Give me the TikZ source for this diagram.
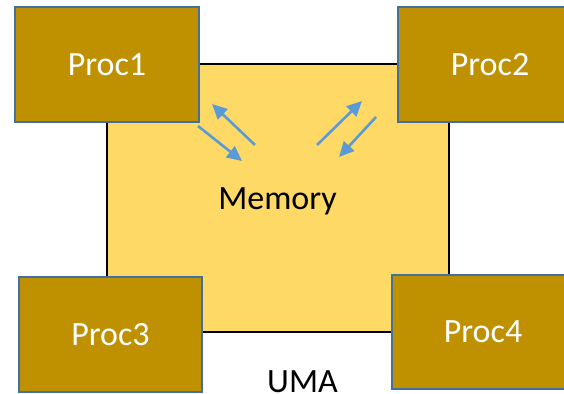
\documentclass[tikz,border=0pt]{standalone}
\usepackage{fontspec}
\setmainfont{Carlito}
\usetikzlibrary{arrows.meta}
\definecolor{procfill}{HTML}{BF9000}
\definecolor{procedge}{HTML}{41719C}
\definecolor{memfill}{HTML}{FFD966}
\definecolor{flow}{HTML}{5B9BD5}
\tikzset{
  proc/.style={draw=procedge, line width=1.6pt, fill=procfill, text=white,
    font=\fontsize{34}{40}\selectfont, inner sep=0pt},
  mem/.style={draw=black, line width=2pt, fill=memfill, inner sep=0pt},
  label/.style={font=\fontsize{34}{40}\selectfont, text=black, inner sep=0pt},
  flowarrow/.style={draw=flow, line width=2.6pt,
    -{Triangle[length=15pt,width=14pt]}, shorten <=0pt}
}
\begin{document}
\begin{tikzpicture}[x=1pt,y=-1pt]
  \useasboundingbox (0,0) rectangle (564,393);
  \begin{scope}
  \clip (0,0) rectangle (564,393);
  % shared memory block
  \node[mem, minimum width=342pt, minimum height=268pt] (memory) at (278,198) {};
  \node[label, anchor=base] (memtext) at (277.5,209) {Memory};

  % processors at the four corners
  \node[proc, minimum width=184pt, minimum height=115pt] (p1) at (107,64.5) {Proc1};
  \node[proc, minimum width=184pt, minimum height=115pt] (p2) at (490,64.5) {Proc2};
  \node[proc, minimum width=183pt, minimum height=115pt] (p3) at (110.5,334.5) {Proc3};
  \node[proc, minimum width=182pt, minimum height=114pt] (p4) at (483,332) {Proc4};

  % caption
  \node[label, anchor=base] (uma) at (302.5,392.5) {UMA};

  % access arrows between processors and memory
  \coordinate (a1s) at (255,145); \coordinate (a1e) at (212,104);
  \coordinate (a2s) at (198,126); \coordinate (a2e) at (242,161);
  \coordinate (a3s) at (317,145); \coordinate (a3e) at (362,101);
  \coordinate (a4s) at (376,117); \coordinate (a4e) at (339,157);
  \draw[flowarrow] (a1s) -- (a1e);
  \draw[flowarrow] (a2s) -- (a2e);
  \draw[flowarrow] (a3s) -- (a3e);
  \draw[flowarrow] (a4s) -- (a4e);
  \end{scope}
\end{tikzpicture}
\end{document}
